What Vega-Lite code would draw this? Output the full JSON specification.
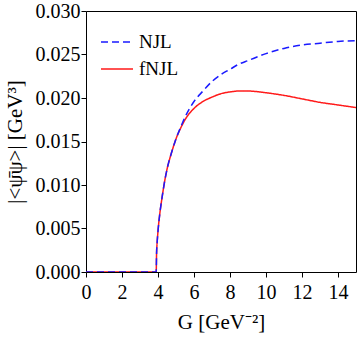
{
  "$schema": "https://vega.github.io/schema/vega-lite/v6.json",
  "width": 270,
  "height": 261,
  "autosize": "none",
  "padding": {"left": 86, "top": 11, "right": 1, "bottom": 67},
  "background": "white",
  "config": {
    "view": {"stroke": "#000", "strokeWidth": 1},
    "axis": {
      "domain": false, "grid": false, "ticks": true,
      "labelFont": "Liberation Serif", "labelFontSize": 20, "labelColor": "#000",
      "titleFont": "Liberation Serif", "titleFontSize": 21, "titleFontWeight": "normal", "titleColor": "#000",
      "tickColor": "#000", "tickWidth": 1, "tickSize": 5
    },
    "legend": {"labelFont": "Liberation Serif", "labelFontSize": 19, "labelColor": "#000"}
  },
  "data": {"values": [
    {"G": 0, "v": 0, "model": "fNJL"},
    {"G": 3.9, "v": 0, "model": "fNJL"},
    {"G": 3.92, "v": 0.0021, "model": "fNJL"},
    {"G": 3.95, "v": 0.0033, "model": "fNJL"},
    {"G": 4.0, "v": 0.0047, "model": "fNJL"},
    {"G": 4.1, "v": 0.0067, "model": "fNJL"},
    {"G": 4.2, "v": 0.0082, "model": "fNJL"},
    {"G": 4.35, "v": 0.0102, "model": "fNJL"},
    {"G": 4.5, "v": 0.0118, "model": "fNJL"},
    {"G": 4.75, "v": 0.0137, "model": "fNJL"},
    {"G": 5.0, "v": 0.0153, "model": "fNJL"},
    {"G": 5.25, "v": 0.0165, "model": "fNJL"},
    {"G": 5.5, "v": 0.0175, "model": "fNJL"},
    {"G": 6.0, "v": 0.0188, "model": "fNJL"},
    {"G": 6.5, "v": 0.0196, "model": "fNJL"},
    {"G": 7.0, "v": 0.0201, "model": "fNJL"},
    {"G": 7.5, "v": 0.0205, "model": "fNJL"},
    {"G": 8.0, "v": 0.0207, "model": "fNJL"},
    {"G": 8.5, "v": 0.0208, "model": "fNJL"},
    {"G": 9.0, "v": 0.0208, "model": "fNJL"},
    {"G": 10.0, "v": 0.0206, "model": "fNJL"},
    {"G": 11.0, "v": 0.0203, "model": "fNJL"},
    {"G": 12.0, "v": 0.0199, "model": "fNJL"},
    {"G": 13.0, "v": 0.0195, "model": "fNJL"},
    {"G": 14.0, "v": 0.0192, "model": "fNJL"},
    {"G": 15.0, "v": 0.0189, "model": "fNJL"},
    {"G": 0, "v": 0, "model": "NJL"},
    {"G": 3.9, "v": 0, "model": "NJL"},
    {"G": 3.92, "v": 0.0021, "model": "NJL"},
    {"G": 3.95, "v": 0.0033, "model": "NJL"},
    {"G": 4.0, "v": 0.0047, "model": "NJL"},
    {"G": 4.1, "v": 0.0067, "model": "NJL"},
    {"G": 4.2, "v": 0.0082, "model": "NJL"},
    {"G": 4.35, "v": 0.0102, "model": "NJL"},
    {"G": 4.5, "v": 0.0118, "model": "NJL"},
    {"G": 4.75, "v": 0.0137, "model": "NJL"},
    {"G": 5.0, "v": 0.0153, "model": "NJL"},
    {"G": 5.25, "v": 0.0166, "model": "NJL"},
    {"G": 5.5, "v": 0.0178, "model": "NJL"},
    {"G": 6.0, "v": 0.0196, "model": "NJL"},
    {"G": 6.5, "v": 0.0208, "model": "NJL"},
    {"G": 7.0, "v": 0.0219, "model": "NJL"},
    {"G": 7.5, "v": 0.0227, "model": "NJL"},
    {"G": 8.0, "v": 0.0233, "model": "NJL"},
    {"G": 8.5, "v": 0.0239, "model": "NJL"},
    {"G": 9.0, "v": 0.0243, "model": "NJL"},
    {"G": 10.0, "v": 0.0251, "model": "NJL"},
    {"G": 11.0, "v": 0.0257, "model": "NJL"},
    {"G": 12.0, "v": 0.0261, "model": "NJL"},
    {"G": 13.0, "v": 0.0263, "model": "NJL"},
    {"G": 14.0, "v": 0.0265, "model": "NJL"},
    {"G": 15.0, "v": 0.0266, "model": "NJL"}
  ]},
  "mark": {"type": "line", "strokeWidth": 1.5, "interpolate": "monotone", "clip": true},
  "encoding": {
    "x": {"field": "G", "type": "quantitative", "scale": {"domain": [0, 15], "nice": false, "zero": false},
      "axis": {"orient": "bottom", "title": "G [GeV⁻²]", "titlePadding": 9,
        "values": [0, 2, 4, 6, 8, 10, 12, 14],
        "format": "d", "labelPadding": 5, "labelFlush": false}},
    "y": {"field": "v", "type": "quantitative", "scale": {"domain": [0, 0.03], "nice": false},
      "axis": {"orient": "left", "title": "|<ψ̄ψ>| [GeV³]", "titlePadding": 10,
        "values": [0, 0.005, 0.01, 0.015, 0.02, 0.025, 0.03],
        "format": ".3f", "labelPadding": 1, "labelFlush": false}},
    "color": {"field": "model", "type": "nominal",
      "scale": {"domain": ["NJL", "fNJL"], "range": ["#1a1aff", "#ff1a1a"]},
      "legend": {"title": null, "orient": "none", "legendX": 14, "legendY": 14,
        "symbolType": "stroke", "symbolSize": 1024, "symbolStrokeWidth": 1.5,
        "labelOffset": 5, "rowPadding": 0}},
    "strokeDash": {"field": "model", "type": "nominal",
      "scale": {"domain": ["NJL", "fNJL"], "range": [[7, 4], [1, 0]]},
      "legend": {"title": null, "orient": "none", "legendX": 14, "legendY": 14,
        "symbolType": "stroke", "symbolSize": 1024, "symbolStrokeWidth": 1.5,
        "labelOffset": 5, "rowPadding": 0}}
  }
}
